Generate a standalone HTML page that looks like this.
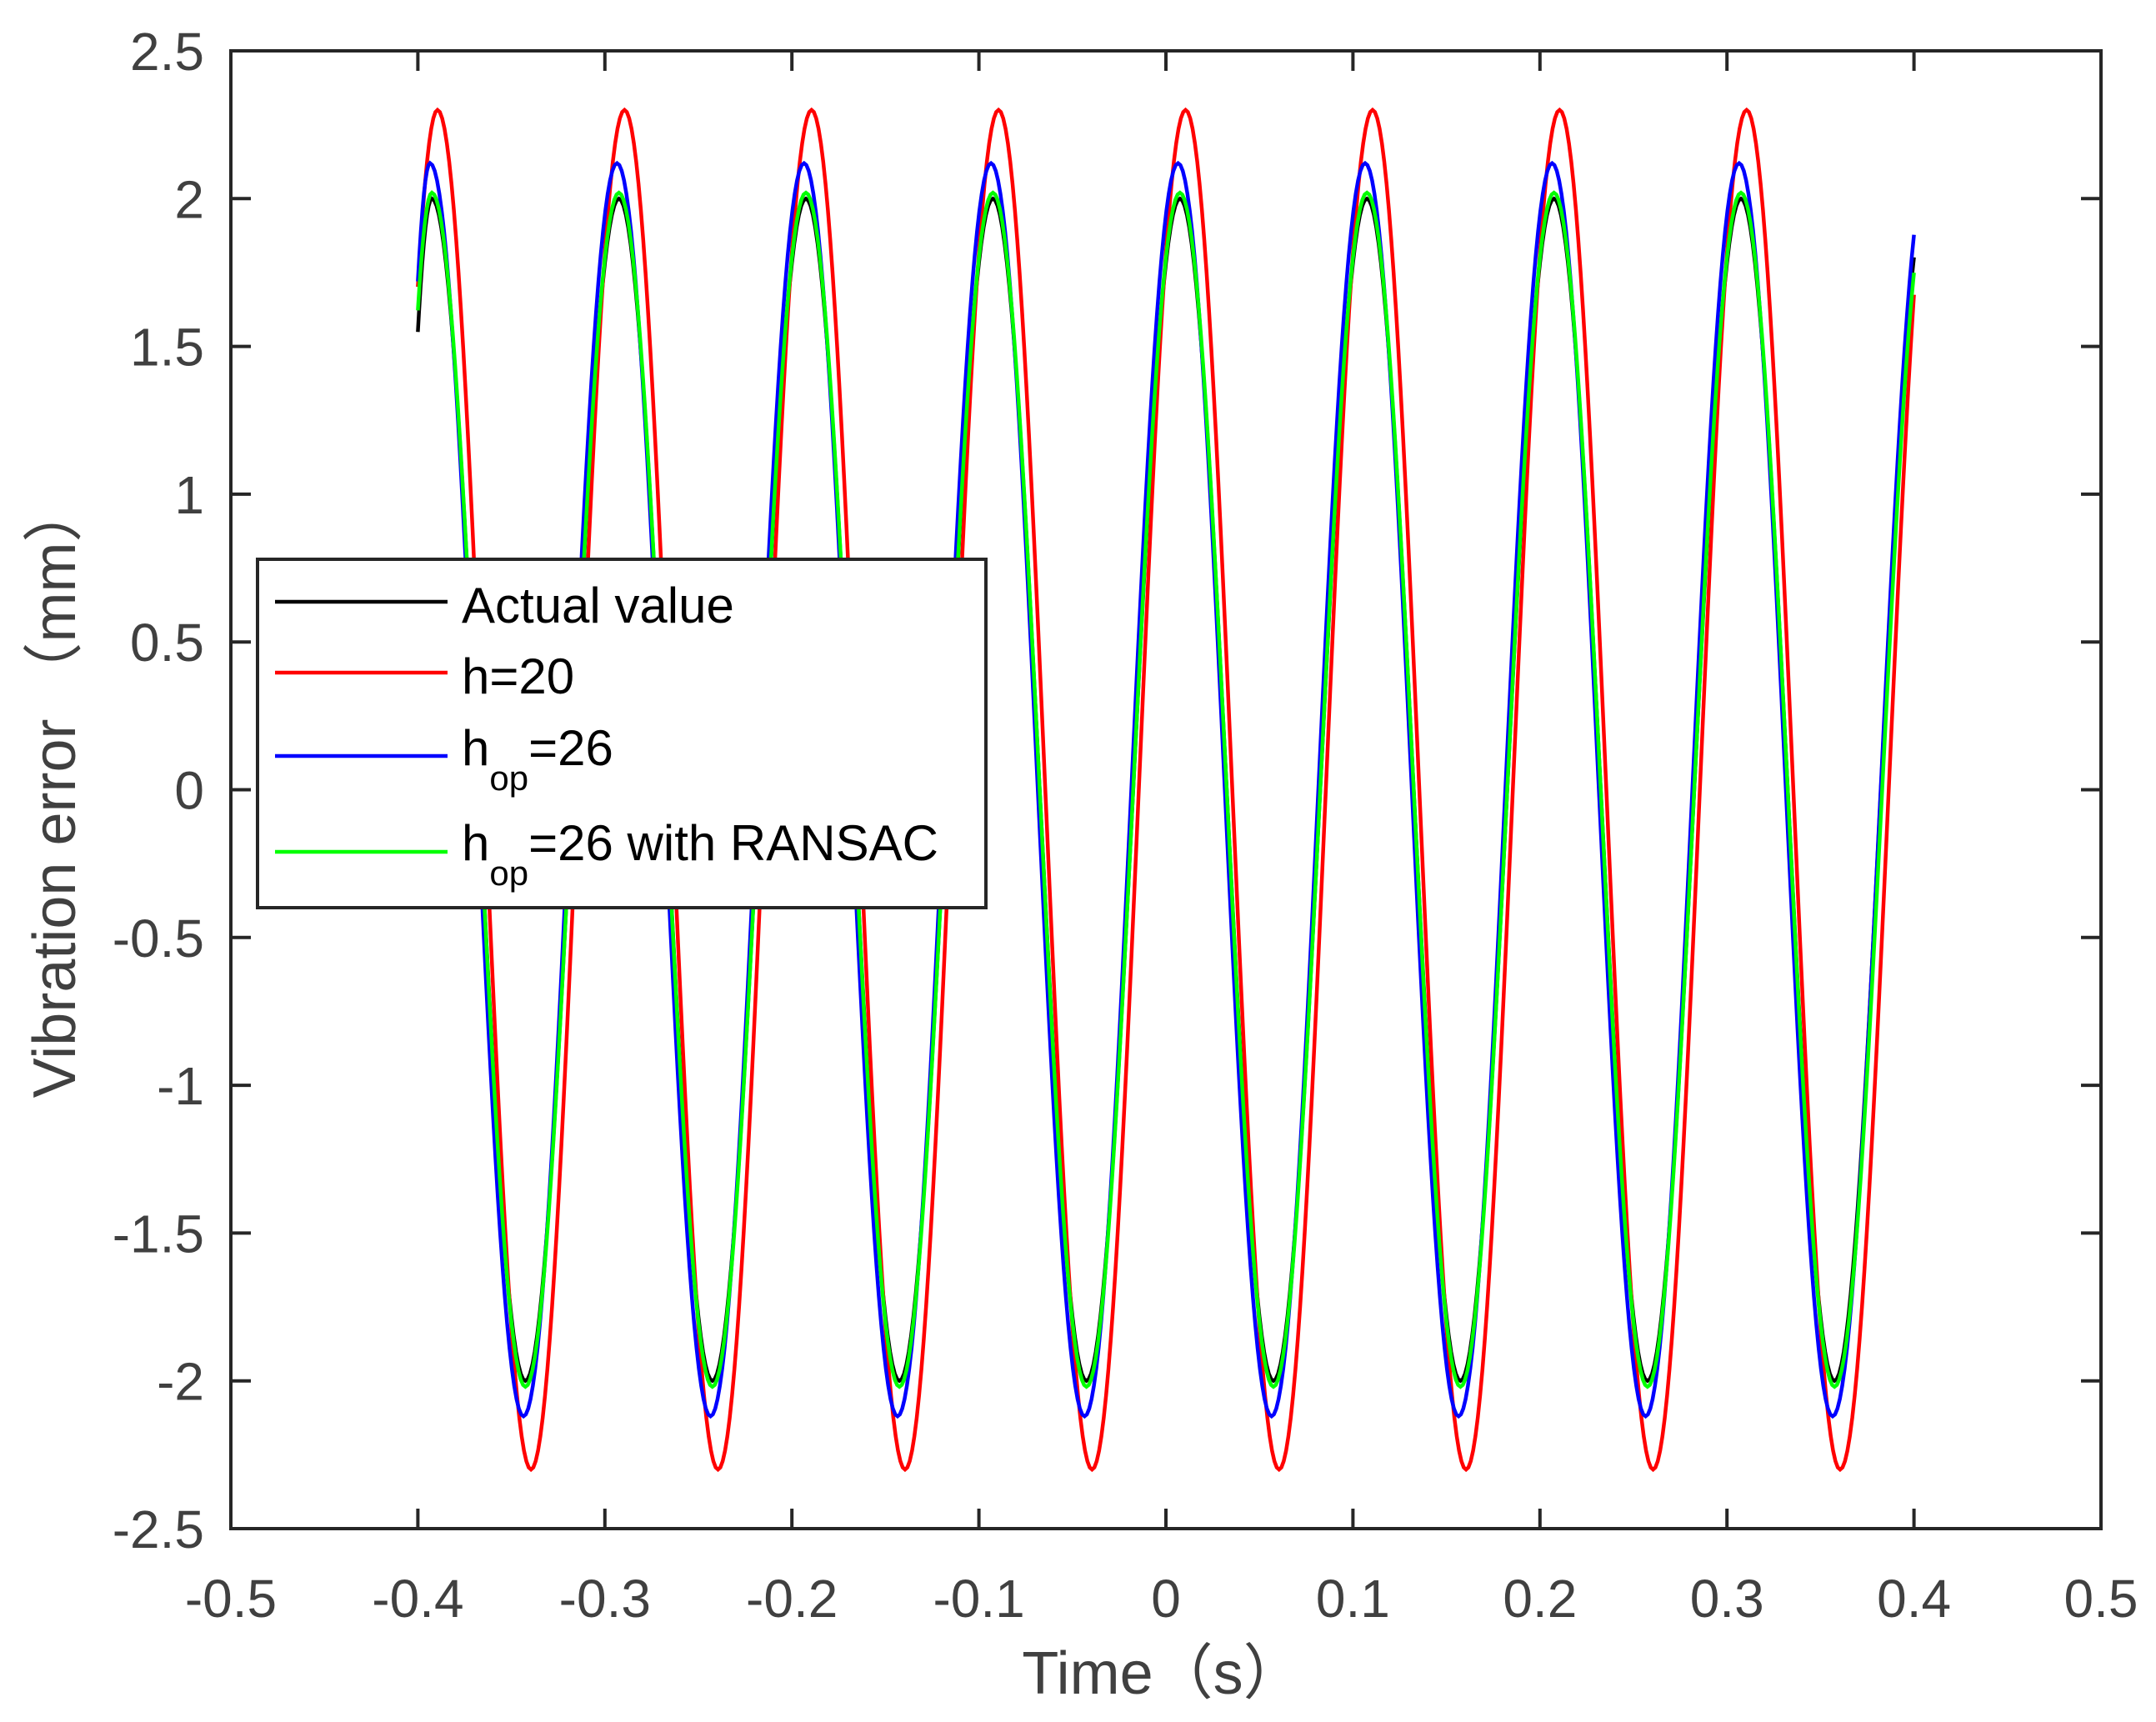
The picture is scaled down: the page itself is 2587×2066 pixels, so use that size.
<!DOCTYPE html>
<html><head><meta charset="utf-8"><style>
html,body{margin:0;padding:0;background:#fff;}
svg{display:block;font-family:"Liberation Sans",Arial,sans-serif;}
</style></head><body>
<svg id="chart" width="2587" height="2066" viewBox="0 0 2587 2066" xmlns="http://www.w3.org/2000/svg">
<rect width="2587" height="2066" fill="#fff"/>
<g id="series"></g>
<g id="axes"></g>
</svg>
<script>
// ---- data ----
const xTicks = [-0.5,-0.4,-0.3,-0.2,-0.1,0,0.1,0.2,0.3,0.4,0.5];
const xTickLabels = ["-0.5","-0.4","-0.3","-0.2","-0.1","0","0.1","0.2","0.3","0.4","0.5"];
const yTicks = [-2.5,-2,-1.5,-1,-0.5,0,0.5,1,1.5,2,2.5];
const yTickLabels = ["-2.5","-2","-1.5","-1","-0.5","0","0.5","1","1.5","2","2.5"];
const tStart = -0.4;
const tEnd = 0.4;
// extrema times and values for each series (first/last lie just outside the visible window)
const actualT = [-0.4269,-0.3925,-0.3425,-0.2925,-0.2425,-0.1925,-0.1425,-0.0925,-0.0425,0.0075,0.0575,0.1075,0.1575,0.2075,0.2575,0.3075,0.3575,0.4071];
const actualY = [-2.0,2.0,-2.0,2.0,-2.0,2.0,-2.0,2.0,-2.0,2.0,-2.0,2.0,-2.0,2.0,-2.0,2.0,-2.0,2.0];
const h20T = [-0.4342,-0.3895,-0.3395,-0.2895,-0.2395,-0.1895,-0.1395,-0.0895,-0.0395,0.0105,0.0605,0.1105,0.1605,0.2105,0.2605,0.3105,0.3605,0.4125];
const h20Y = [-2.3,2.3,-2.3,2.3,-2.3,2.3,-2.3,2.3,-2.3,2.3,-2.3,2.3,-2.3,2.3,-2.3,2.3,-2.3,2.3];
const hopT = [-0.4262,-0.3935,-0.3435,-0.2935,-0.2435,-0.1935,-0.1435,-0.0935,-0.0435,0.0065,0.0565,0.1065,0.1565,0.2065,0.2565,0.3065,0.3565,0.4079];
const hopY = [-2.12,2.12,-2.12,2.12,-2.12,2.12,-2.12,2.12,-2.12,2.12,-2.12,2.12,-2.12,2.12,-2.12,2.12,-2.12,2.12];
const ransacT = [-0.4294,-0.3925,-0.3425,-0.2925,-0.2425,-0.1925,-0.1425,-0.0925,-0.0425,0.0075,0.0575,0.1075,0.1575,0.2075,0.2575,0.3075,0.3575,0.4085];
const ransacY = [-2.02,2.02,-2.02,2.02,-2.02,2.02,-2.02,2.02,-2.02,2.02,-2.02,2.02,-2.02,2.02,-2.02,2.02,-2.02,2.02];
const seriesNames = ["Actual value","h=20","hop=26","hop=26 with RANSAC"];

// ---- layout ----
const L=277,R=2521,T=61,B=1834;
const xMin=-0.5,xMax=0.5,yMin=-2.5,yMax=2.5;
const sx=v=>L+(v-xMin)/(xMax-xMin)*(R-L);
const sy=v=>B-(v-yMin)/(yMax-yMin)*(B-T);
const NS="http://www.w3.org/2000/svg";
function mk(tag,attrs,parent){const e=document.createElementNS(NS,tag);for(const k in attrs)e.setAttribute(k,attrs[k]);parent.appendChild(e);return e;}

function curvePath(ts,ys){
  function val(t){for(let i=0;i<ts.length-1;i++){if(t>=ts[i]&&t<=ts[i+1]){const a=ys[i],b=ys[i+1];return (a+b)/2+(a-b)/2*Math.cos(Math.PI*(t-ts[i])/(ts[i+1]-ts[i]));}}return 0;}
  let d="M"+sx(tStart).toFixed(2)+" "+sy(val(tStart)).toFixed(2);
  for(let i=0;i<ts.length-1;i++){
    const a=ys[i],b=ys[i+1],ta=ts[i],tb=ts[i+1];
    const n=40;
    for(let k=0;k<=n;k++){
      const t=ta+(tb-ta)*k/n;
      if(t<=tStart||t>=tEnd)continue;
      const y=(a+b)/2+(a-b)/2*Math.cos(Math.PI*(t-ta)/(tb-ta));
      d+="L"+sx(t).toFixed(2)+" "+sy(y).toFixed(2);
    }
  }
  d+="L"+sx(tEnd).toFixed(2)+" "+sy(val(tEnd)).toFixed(2);
  return d;
}

const sg=document.getElementById("series");
let p;
p=mk("path",{d:curvePath(actualT,actualY),fill:"none",stroke:"#000000","stroke-width":4.5},sg);


p=mk("path",{d:curvePath(h20T,h20Y),fill:"none",stroke:"#ff0000","stroke-width":4.5},sg);


p=mk("path",{d:curvePath(hopT,hopY),fill:"none",stroke:"#0000ff","stroke-width":4.5},sg);


p=mk("path",{d:curvePath(ransacT,ransacY),fill:"none",stroke:"#00ff00","stroke-width":4.5},sg);



// ---- axes ----
const ag=document.getElementById("axes");
const ax="#262626",tc="#404040";
let e=mk("rect",{x:L,y:T,width:R-L,height:B-T,fill:"none",stroke:ax,"stroke-width":4},ag);


xTicks.forEach((v,i)=>{
  const x=sx(v);
  mk("line",{x1:x,y1:B,x2:x,y2:B-24,stroke:ax,"stroke-width":4},ag);
  mk("line",{x1:x,y1:T,x2:x,y2:T+24,stroke:ax,"stroke-width":4},ag);
  const t=mk("text",{x:x,y:1940,"text-anchor":"middle","font-size":64,fill:tc},ag);
  t.textContent=xTickLabels[i];
  
  
});
yTicks.forEach((v,i)=>{
  const y=sy(v);
  mk("line",{x1:L,y1:y,x2:L+24,y2:y,stroke:ax,"stroke-width":4},ag);
  mk("line",{x1:R,y1:y,x2:R-24,y2:y,stroke:ax,"stroke-width":4},ag);
  const t=mk("text",{x:245,y:y+23,"text-anchor":"end","font-size":64,fill:tc},ag);
  t.textContent=yTickLabels[i];
  
  
});
</script>
<svg style="position:absolute;left:0;top:0" width="2587" height="2066" xmlns="http://www.w3.org/2000/svg" font-family="Liberation Sans, Noto Sans CJK SC, sans-serif">
<text x="1395" y="2032" text-anchor="middle" font-size="72" fill="#404040">Time（s）</text>
<text transform="translate(90,948) rotate(-90)" text-anchor="middle" font-size="72" fill="#404040">Vibration error （mm）</text>
<g>
<rect x="309" y="671" width="874" height="418" fill="#fff" stroke="#262626" stroke-width="4"/>
<line x1="330" y1="722" x2="537" y2="722" stroke="#000" stroke-width="4.5"/>
<text x="554" y="747" font-size="60" fill="#000">Actual value</text>
<line x1="330" y1="807" x2="537" y2="807" stroke="#f00" stroke-width="4.5"/>
<text x="554" y="832" font-size="60" fill="#000">h=20</text>
<line x1="330" y1="907" x2="537" y2="907" stroke="#00f" stroke-width="4.5"/>
<text x="554" y="918" font-size="60" fill="#000">h<tspan font-size="42" dy="30">op</tspan><tspan dy="-30">=26</tspan></text>
<line x1="330" y1="1022" x2="537" y2="1022" stroke="#0f0" stroke-width="4.5"/>
<text x="554" y="1032" font-size="60" fill="#000">h<tspan font-size="42" dy="30">op</tspan><tspan dy="-30">=26 with RANSAC</tspan></text>
</g>
</svg>
</body></html>
